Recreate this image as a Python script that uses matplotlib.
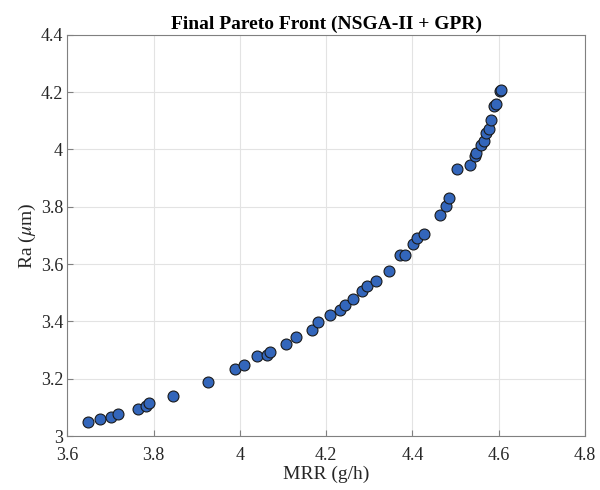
import matplotlib
matplotlib.use("Agg")
import matplotlib.pyplot as plt
from matplotlib.ticker import FuncFormatter

# Pareto front points
mrr = [3.649, 3.675, 3.701, 3.717, 3.763, 3.783, 3.790, 3.845, 3.926, 3.989,
       4.010, 4.039, 4.062, 4.070, 4.106, 4.131, 4.168, 4.181, 4.208, 4.232,
       4.244, 4.263, 4.283, 4.295, 4.316, 4.345, 4.372, 4.383, 4.402, 4.411,
       4.427, 4.464, 4.479, 4.485, 4.504, 4.533, 4.544, 4.548, 4.560, 4.565,
       4.571, 4.578, 4.582, 4.590, 4.593, 4.604, 4.605]
ra = [3.050, 3.060, 3.068, 3.077, 3.094, 3.106, 3.115, 3.141, 3.190, 3.233,
      3.248, 3.280, 3.282, 3.295, 3.320, 3.344, 3.371, 3.397, 3.421, 3.440,
      3.458, 3.477, 3.505, 3.524, 3.542, 3.577, 3.631, 3.631, 3.669, 3.692,
      3.706, 3.771, 3.802, 3.831, 3.933, 3.945, 3.978, 3.989, 4.015, 4.030,
      4.058, 4.070, 4.102, 4.150, 4.157, 4.203, 4.208]

x_ticks = [3.6, 3.8, 4.0, 4.2, 4.4, 4.6, 4.8]
y_ticks = [3.0, 3.2, 3.4, 3.6, 3.8, 4.0, 4.2, 4.4]

plt.rcParams['font.family'] = ['Liberation Serif', 'DejaVu Serif']
plt.rcParams['mathtext.fontset'] = 'stix'

fig = plt.figure(figsize=(6, 4.9), dpi=100)
ax = fig.add_axes([0.112, 0.110, 0.863, 0.819])

ax.scatter(mrr, ra, s=62, c='#3366BB', edgecolors='#1a1a1a', linewidths=0.8, zorder=3)

ax.set_xlim(3.6, 4.8)
ax.set_ylim(3.0, 4.4)
ax.set_xticks(x_ticks)
ax.set_yticks(y_ticks)
fmt = FuncFormatter(lambda v, p: '%g' % round(v, 2))
ax.xaxis.set_major_formatter(fmt)
ax.yaxis.set_major_formatter(fmt)

ax.grid(True, color='#e3e3e3', linewidth=0.8, zorder=0)
ax.set_axisbelow(True)
ax.tick_params(direction='in', length=4, width=0.8, colors='#808080',
               labelcolor='#262626', labelsize=13, top=False, right=False)
ax.tick_params(axis='x', pad=8)
ax.tick_params(axis='y', pad=3)
for sp in ax.spines.values():
    sp.set_color('#808080')
    sp.set_linewidth(0.8)

ax.set_xlabel('MRR (g/h)', fontsize=14, color='#262626', labelpad=1)
ax.set_ylabel(r'Ra ($\mu$m)', fontsize=14, color='#262626', labelpad=2)
ax.set_title('Final Pareto Front (NSGA-II + GPR)', fontsize=14, fontweight='bold', pad=4)

fig.savefig('out.png', dpi=100)
plt.close(fig)
